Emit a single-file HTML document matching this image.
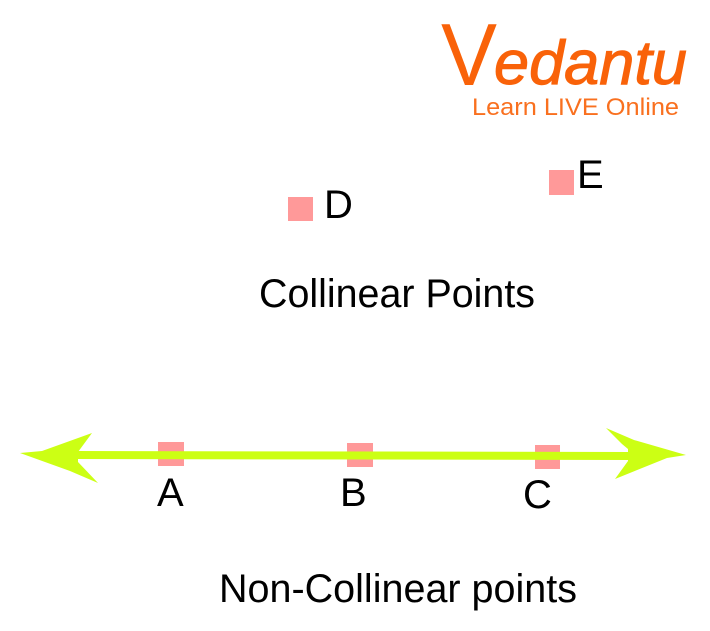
<!DOCTYPE html>
<html>
<head>
<meta charset="utf-8">
<style>
html,body{margin:0;padding:0;background:#fff;width:710px;height:631px;overflow:hidden}
svg{display:block}
text{font-family:"Liberation Sans",sans-serif;fill:#000}
</style>
</head>
<body>
<svg width="710" height="631" viewBox="0 0 710 631" xmlns="http://www.w3.org/2000/svg">
<rect width="710" height="631" fill="#fff"/>
<!-- logo -->
<text x="441" y="85" font-size="88" textLength="56" lengthAdjust="spacingAndGlyphs" style="fill:#f96209">V</text>
<text x="494" y="84" font-size="62" textLength="193" lengthAdjust="spacingAndGlyphs" stroke="#f96209" stroke-width="1" style="fill:#f96209;font-family:'Liberation Sans',sans-serif;font-style:italic">edantu</text>
<text x="472" y="115" font-size="24" textLength="207" lengthAdjust="spacingAndGlyphs" style="fill:#f9701f">Learn LIVE Online</text>
<!-- points -->
<rect x="288" y="197" width="25" height="24" fill="#ff9999"/>
<rect x="549" y="170" width="25" height="25" fill="#ff9999"/>
<rect x="158" y="442" width="26" height="24" fill="#ff9999"/>
<rect x="347" y="443" width="26" height="24" fill="#ff9999"/>
<rect x="535" y="445" width="25" height="24" fill="#ff9999"/>
<!-- line with arrows -->
<polygon points="76,451 630,452 630,460 76,459" fill="#ccff14"/>
<polygon points="20,453 42,451 92,433 78,452 78,462 98,483 70,471" fill="#ccff14"/>
<polygon points="686,455 667,458 615,479 628,461 628,449 622,444 606,428 634,440" fill="#ccff14"/>
<!-- labels -->
<text x="324" y="218" font-size="40">D</text>
<text x="577" y="188" font-size="40">E</text>
<text x="259" y="307" font-size="40" textLength="276" lengthAdjust="spacingAndGlyphs">Collinear Points</text>
<text x="157" y="506" font-size="40">A</text>
<text x="340" y="506" font-size="40">B</text>
<text x="523" y="508" font-size="40">C</text>
<text x="219" y="602" font-size="40" textLength="358" lengthAdjust="spacingAndGlyphs">Non-Collinear points</text>
</svg>
</body>
</html>
